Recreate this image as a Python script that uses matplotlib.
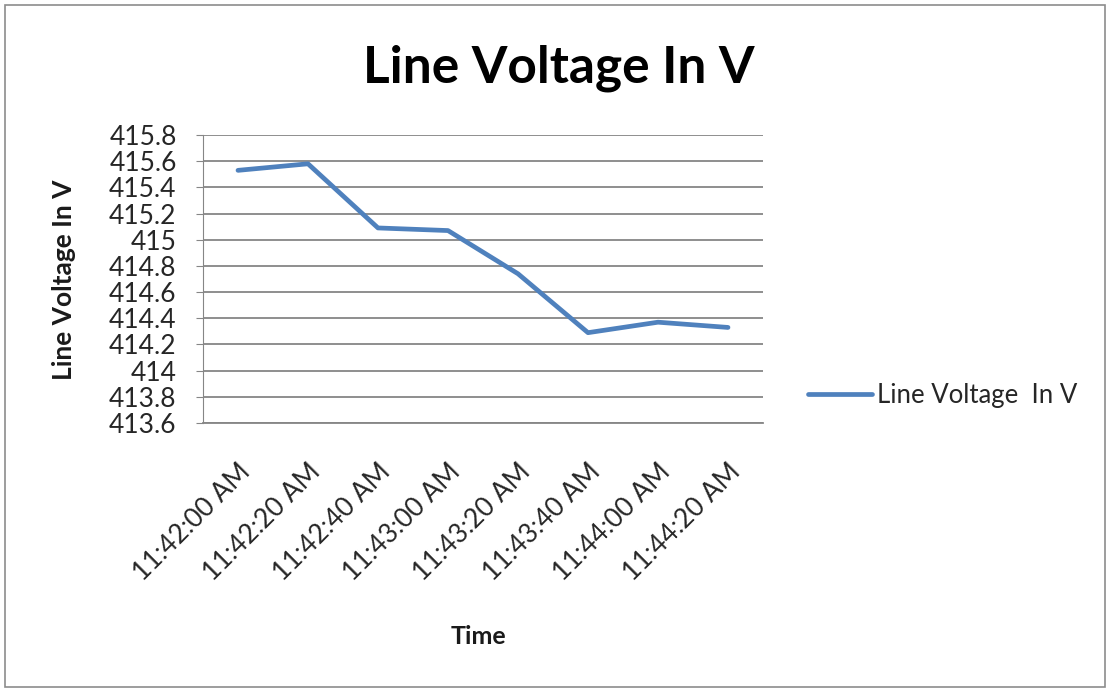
import matplotlib.pyplot as plt
from matplotlib.patches import Rectangle

times = ["11:42:00 AM", "11:42:20 AM", "11:42:40 AM", "11:43:00 AM",
         "11:43:20 AM", "11:43:40 AM", "11:44:00 AM", "11:44:20 AM"]
voltage = [415.53, 415.58, 415.09, 415.07, 414.74, 414.29, 414.37, 414.33]
yticks = [413.6, 413.8, 414, 414.2, 414.4, 414.6, 414.8, 415, 415.2, 415.4, 415.6, 415.8]
ytick_labels = ["413.6", "413.8", "414", "414.2", "414.4", "414.6", "414.8",
                "415", "415.2", "415.4", "415.6", "415.8"]

plt.rcParams['font.family'] = ['Lato', 'DejaVu Sans']

fig = plt.figure(figsize=(11.1, 6.92), dpi=100)
fig.patches.append(Rectangle((5 / 1110, 5 / 692), 1100 / 1110, 682 / 692,
                             transform=fig.transFigure, fill=False,
                             edgecolor="#8c8c8c", linewidth=1.2))

ax = fig.add_axes([203 / 1110, 1 - 423 / 692, 560 / 1110, 288 / 692])
x = list(range(len(times)))
ax.plot(x, voltage, color="#4F81BD", linewidth=3.4, solid_capstyle="round",
        label="Line Voltage  In V")

ax.set_xlim(-0.5, len(times) - 0.5)
ax.set_ylim(413.6, 415.8)
ax.set_yticks(yticks)
ax.set_yticklabels(ytick_labels, fontsize=19, color="#262626")
ax.set_xticks(x)
ax.set_xticklabels(times, rotation=45, ha="right", rotation_mode="anchor",
                   fontsize=19, color="#262626")
ax.tick_params(axis="x", length=0, pad=26)
ax.tick_params(axis="y", length=5, color="#868686", pad=14)
ax.grid(axis="y", color="#868686", linewidth=1.3)
ax.set_axisbelow(True)
for side in ["top", "right"]:
    ax.spines[side].set_visible(False)
ax.spines["left"].set_color("#868686")
ax.spines["bottom"].set_color("#868686")
ax.spines["bottom"].set_linewidth(1.3)

fig.text(559 / 1110, 1 - 68 / 692, "Line Voltage In V", ha="center", va="center",
         fontsize=37, fontweight="bold", color="black")
fig.text(64 / 1110, 1 - 280 / 692, "Line Voltage In V", ha="center", va="center",
         rotation=90, fontsize=19, fontweight="bold", color="#1a1a1a")
fig.text(478 / 1110, 1 - 637 / 692, "Time", ha="center", va="center",
         fontsize=18, fontweight="bold", color="#1a1a1a")

fig.legend(loc="center left", bbox_to_anchor=(808 / 1110, 1 - 395 / 692),
           frameon=False, fontsize=18.5, handlelength=2.5, handletextpad=0.2,
           borderpad=0, borderaxespad=0, labelcolor="#262626")

fig.savefig("out.png", dpi=100)
